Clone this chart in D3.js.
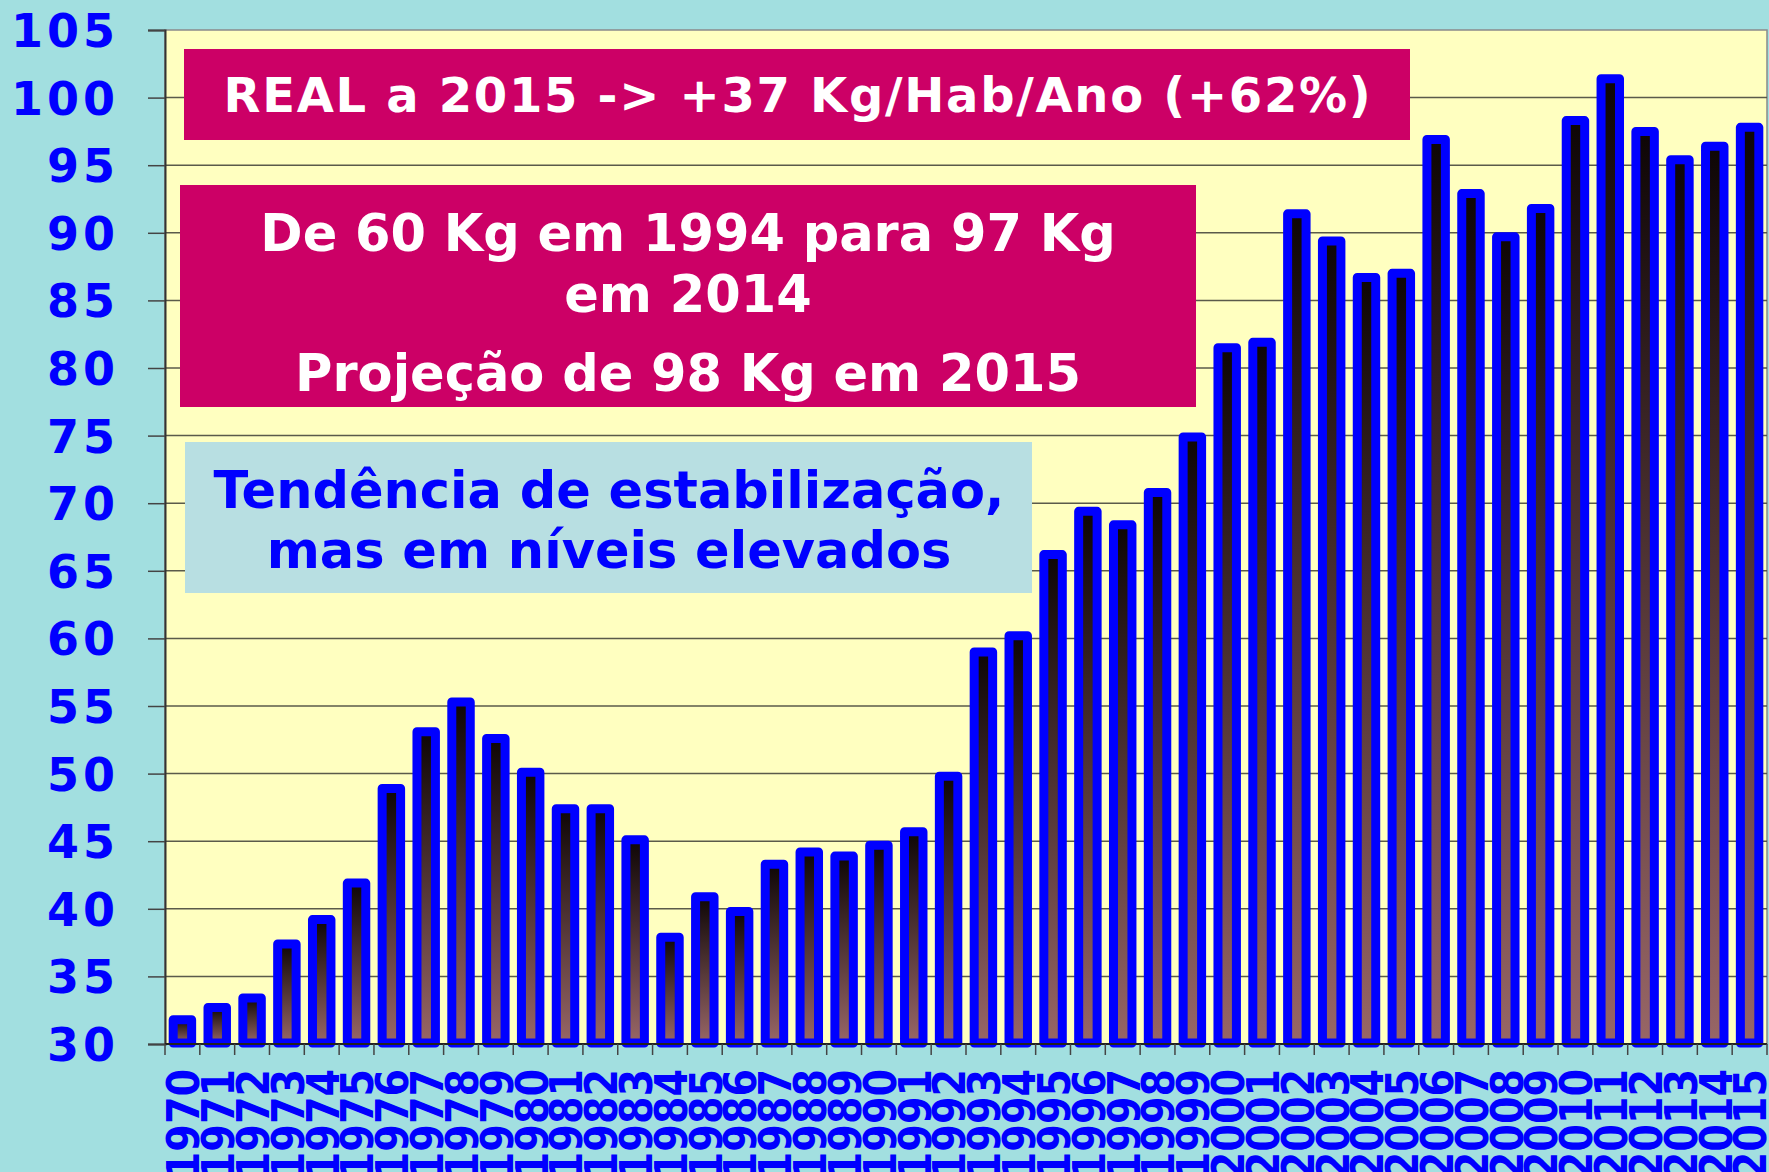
<!DOCTYPE html>
<html>
<head>
<meta charset="utf-8">
<script src="https://cdn.jsdelivr.net/npm/d3@7/dist/d3.min.js"></script>
<style>
  html, body { margin: 0; padding: 0; background: #a2dfe0; }
  svg { display: block; font-family: "DejaVu Sans", Verdana, sans-serif; font-weight: bold; }
</style>
</head>
<body>
<div id="chart"></div>
<script>
// Consumo per capita (Kg/Hab/Ano), 1970-2015
const years = d3.range(1970, 2016).map(String);
const values = [
  31.8, 32.7, 33.4, 37.4, 39.2, 41.9, 48.9, 53.1, 55.3, 52.6,
  50.1, 47.4, 47.4, 45.1, 37.9, 40.9, 39.8, 43.3, 44.2, 43.9,
  44.7, 45.7, 49.8, 59.0, 60.2, 66.2, 69.4, 68.4, 70.8, 74.9,
  81.5, 81.9, 91.4, 89.4, 86.7, 87.0, 96.9, 92.9, 89.7, 91.8,
  98.3, 101.4, 97.5, 95.4, 96.4, 97.8
];
const yTicks = d3.range(30, 106, 5);

const width = 1769, height = 1172;
const plot = { left: 165, right: 1767, top: 30, bottom: 1044 };

const svg = d3.select('#chart').append('svg')
  .attr('width', width)
  .attr('height', height);

svg.append('rect')
  .attr('width', width).attr('height', height)
  .attr('fill', '#a2dfe0');

const x = d3.scaleBand()
  .domain(years)
  .range([plot.left, plot.right])
  .paddingInner(0.47)
  .paddingOuter(0.235);

const y = d3.scaleLinear()
  .domain([30, 105])
  .range([plot.bottom, plot.top]);

// plot area
svg.append('rect')
  .attr('x', plot.left).attr('y', plot.top)
  .attr('width', plot.right - plot.left)
  .attr('height', plot.bottom - plot.top)
  .attr('fill', '#ffffc0')
  .attr('stroke', '#8a8a8a')
  .attr('stroke-width', 1.5);

// gridlines
svg.append('g')
  .selectAll('line')
  .data(yTicks.filter(d => d > 30 && d < 105))
  .join('line')
  .attr('x1', plot.left).attr('x2', plot.right)
  .attr('y1', d => y(d)).attr('y2', d => y(d))
  .attr('stroke', '#5a5a4a')
  .attr('stroke-width', 1.5);

// y axis
const yAxis = svg.append('g')
  .attr('transform', `translate(${plot.left},0)`)
  .call(d3.axisLeft(y).tickValues(yTicks).tickSize(17).tickPadding(29));
yAxis.select('.domain').attr('stroke', '#333').attr('stroke-width', 2);
yAxis.selectAll('.tick line').attr('stroke', '#444').attr('stroke-width', 1.5);
yAxis.selectAll('.tick text')
  .attr('fill', '#0000ff')
  .attr('font-size', 46)
  .attr('font-family', '"DejaVu Sans", Verdana, sans-serif')
  .attr('font-weight', 'bold')
  .attr('letter-spacing', 4)
  .attr('dy', '0.36em');

// annotation boxes
svg.append('rect')
  .attr('x', 184).attr('y', 49).attr('width', 1226).attr('height', 91)
  .attr('fill', '#cc0066');
svg.append('text')
  .attr('x', 798).attr('y', 112).attr('text-anchor', 'middle')
  .attr('fill', '#fff').attr('font-size', 48)
  .attr('letter-spacing', 1.7)
  .text('REAL a 2015 -> +37 Kg/Hab/Ano (+62%)');

svg.append('rect')
  .attr('x', 180).attr('y', 185).attr('width', 1016).attr('height', 222)
  .attr('fill', '#cc0066');
const box2 = svg.append('text')
  .attr('text-anchor', 'middle').attr('fill', '#fff').attr('font-size', 51);
box2.append('tspan').attr('x', 688).attr('y', 251).text('De 60 Kg em 1994 para 97 Kg');
box2.append('tspan').attr('x', 688).attr('y', 312).text('em 2014');
box2.append('tspan').attr('x', 688).attr('y', 391).text('Projeção de 98 Kg em 2015');

svg.append('rect')
  .attr('x', 185).attr('y', 442).attr('width', 847).attr('height', 151)
  .attr('fill', '#b8dfe2');
const box3 = svg.append('text')
  .attr('text-anchor', 'middle').attr('fill', '#0000ff').attr('font-size', 51);
box3.append('tspan').attr('x', 609).attr('y', 508).text('Tendência de estabilização,');
box3.append('tspan').attr('x', 609).attr('y', 568).text('mas em níveis elevados');

// bar gradient
const grad = svg.append('defs').append('linearGradient')
  .attr('id', 'barFill')
  .attr('x1', 0).attr('y1', 0).attr('x2', 0).attr('y2', 1);
grad.append('stop').attr('offset', '0%').attr('stop-color', '#0e0606');
grad.append('stop').attr('offset', '100%').attr('stop-color', '#986666');

const rows = years.map((yr, i) => ({ year: yr, value: values[i] }));

svg.append('g')
  .selectAll('rect')
  .data(rows)
  .join('rect')
  .attr('x', d => x(d.year))
  .attr('y', d => y(d.value))
  .attr('width', x.bandwidth())
  .attr('height', d => y(30) - 1 - y(d.value))
  .attr('fill', 'url(#barFill)')
  .attr('stroke', '#0000ff')
  .attr('stroke-width', 9)
  .attr('stroke-linejoin', 'round');

// x axis
svg.append('line')
  .attr('x1', plot.left).attr('x2', plot.right)
  .attr('y1', plot.bottom).attr('y2', plot.bottom)
  .attr('stroke', '#222').attr('stroke-width', 2);

const step = x.step();
svg.append('g')
  .selectAll('line')
  .data(d3.range(years.length + 1))
  .join('line')
  .attr('x1', i => plot.left + i * step).attr('x2', i => plot.left + i * step)
  .attr('y1', plot.bottom).attr('y2', plot.bottom + 11)
  .attr('stroke', '#444').attr('stroke-width', 1.5);

// year labels, rotated and slightly condensed along the text
svg.append('g')
  .selectAll('text')
  .data(years)
  .join('text')
  .attr('transform', d => `translate(${x(d) + x.bandwidth() / 2 + 1},1069) rotate(-90) scale(0.9,1)`)
  .attr('text-anchor', 'end')
  .attr('dy', '0.36em')
  .attr('fill', '#0000ff')
  .attr('font-size', 44)
  .text(d => d);
</script>
</body>
</html>
